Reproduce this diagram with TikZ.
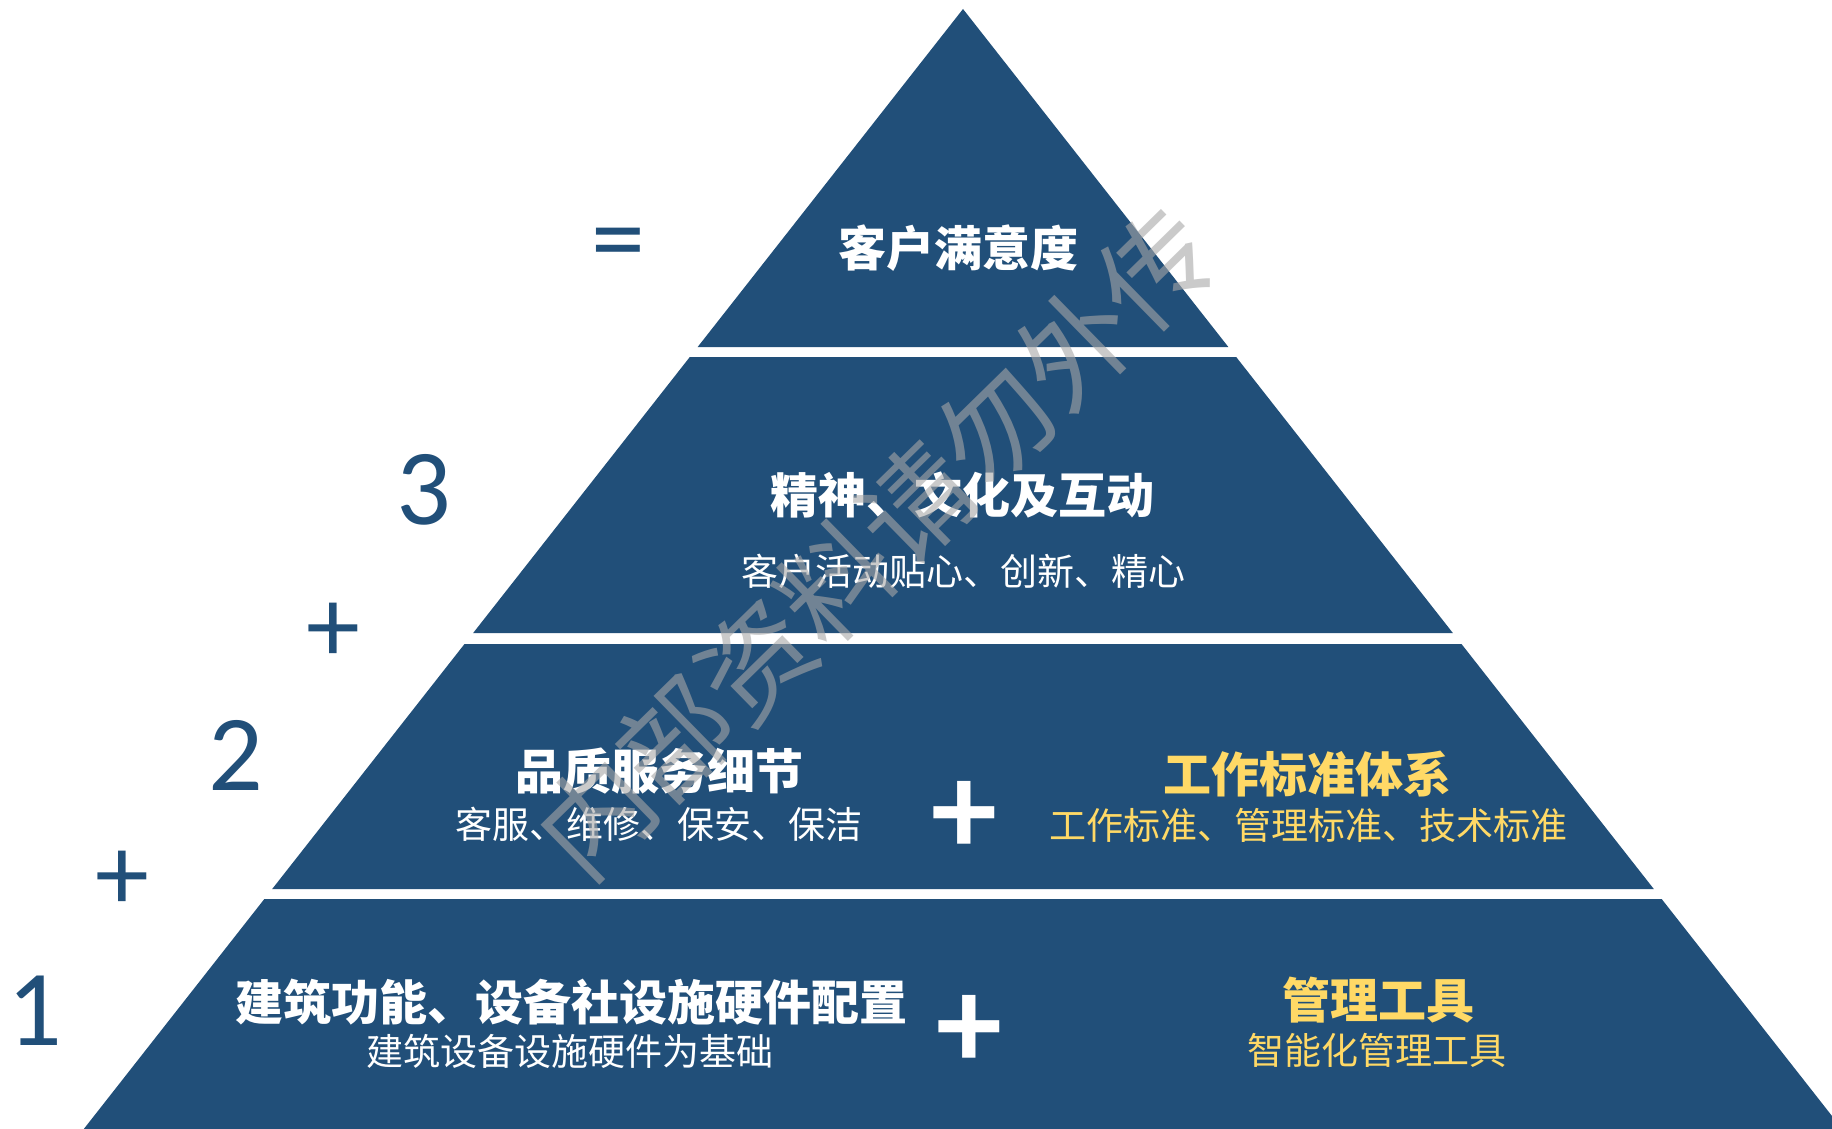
\documentclass[tikz,border=0pt]{standalone}
\usepackage{fontspec}
\setmainfont{Carlito}
\newfontfamily\cjk{Noto Sans CJK SC}
\definecolor{pyr}{RGB}{33,79,121}
\definecolor{gold}{RGB}{255,217,102}
\definecolor{wm}{RGB}{167,167,167}
\newcommand\tierband[2]{\fill[pyr] ({963-0.785*(#1-9)},#1) -- ({963+0.785*(#1-9)},#1) -- ({963+0.785*(#2-9)},#2) -- ({963-0.785*(#2-9)},#2) -- cycle;}
\tikzset{
  title/.style={font=\cjk\bfseries\fontsize{48}{56}\selectfont, inner sep=0pt, text=white},
  sub/.style={font=\cjk\fontsize{37}{44}\selectfont, inner sep=0pt, text=white},
  num/.style={font=\fontsize{108}{120}\selectfont, text=pyr, inner sep=0pt},
  bigplus/.style={font=\bfseries\fontsize{132}{140}\selectfont, text=white, inner sep=0pt},
  wmark/.style={font=\cjk\fontsize{112}{120}\selectfont, text=wm, text opacity=0.6, inner sep=0pt, rotate=44.4}
}
\begin{document}
\begin{tikzpicture}[x=1pt,y=-1pt]
\useasboundingbox (0,0) rectangle (1832,1129);
\fill[white] (0,0) rectangle (1832,1129);
\begin{scope}
\clip (0,0) rectangle (1832,1129);
\tierband{9}{347}
\tierband{357}{633}
\tierband{644}{889}
\tierband{899}{1135}
\end{scope}
% left symbols
\node[num] (eq) at (618,251) {=};
\node[num] (n3) at (424,490) {3};
\node[num] (p2) at (333,633) {+};
\node[num] (n2) at (236,755) {2};
\node[num] (p1) at (122,881) {+};
\node[num] (n1) at (35,1011) {1};
% tier 1
\node[title] (t1) at (958,248) {客户满意度};
% tier 2
\node[title] (t2) at (962,495) {精神、文化及互动};
\node[sub] (s2) at (963,571) {客户活动贴心、创新、精心};
% tier 3
\node[title] (t3a) at (659,771) {品质服务细节};
\node[sub] (s3a) at (659,824) {客服、维修、保安、保洁};
\node[bigplus] (pl3) at (964,818) {+};
\node[title, text=gold] (t3b) at (1307,774) {工作标准体系};
\node[sub, text=gold] (s3b) at (1308,825) {工作标准、管理标准、技术标准};
% tier 4
\node[title] (t4a) at (571,1002) {建筑功能、设备社设施硬件配置};
\node[sub] (s4a) at (570,1051) {建筑设备设施硬件为基础};
\node[bigplus] (pl4) at (969,1032) {+};
\node[title, text=gold] (t4b) at (1378,1000) {管理工具};
\node[sub, text=gold] (s4b) at (1377,1050) {智能化管理工具};
% watermark
\node[wmark] (wmk) at (876,543) {内部资料请勿外传};
\end{tikzpicture}
\end{document}
